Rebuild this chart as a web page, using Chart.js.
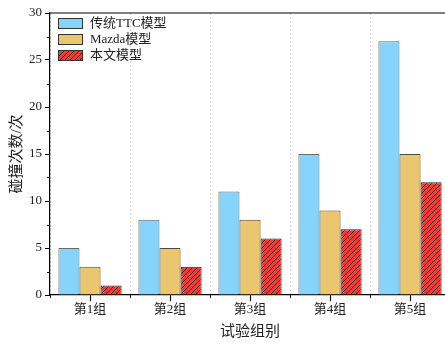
<!DOCTYPE html>
<html>
<head>
<meta charset="utf-8">
<script src="https://cdn.jsdelivr.net/npm/chart.js@4"></script>
<style>
  html, body { margin: 0; padding: 0; background: #fff; overflow: hidden; }
  #wrap { width: 445px; height: 347px; overflow: hidden; }
</style>
</head>
<body>
<div id="wrap"><canvas id="chart" width="455" height="347" style="width:455px;height:347px"></canvas></div>
<script>
const groups = ['第1组', '第2组', '第3组', '第4组', '第5组'];
const ttcValues = [5, 8, 11, 15, 27];
const mazdaValues = [3, 5, 8, 9, 15];
const oursValues = [1, 3, 6, 7, 12];
const seriesNames = ['传统TTC模型', 'Mazda模型', '本文模型'];

const serif = "'Liberation Serif', 'Times New Roman', 'Noto Sans CJK SC', serif";

function makeHatch() {
    const c = document.createElement('canvas');
    c.width = 5;
    c.height = 5;
    const g = c.getContext('2d');
    g.fillStyle = '#f63a33';
    g.fillRect(0, 0, 5, 5);
    g.strokeStyle = '#1a1a1a';
    g.lineWidth = 0.9;
    g.beginPath();
    g.moveTo(-1, 6); g.lineTo(6, -1);
    g.moveTo(-1, 1); g.lineTo(1, -1);
    g.moveTo(4, 6); g.lineTo(6, 4);
    g.stroke();
    return g.createPattern(c, 'repeat');
}

// frame top line, minor ticks, centre ticks and the legend inside the plot
const extras = {
    id: 'extras',
    afterDraw(chart) {
        const ctx = chart.ctx;
        const a = chart.chartArea;
        const y = chart.scales.y;
        const x = chart.scales.x;
        ctx.save();
        ctx.strokeStyle = '#000';
        ctx.lineWidth = 1.2;
        ctx.beginPath();
        ctx.moveTo(a.left, a.top);
        ctx.lineTo(a.right, a.top);
        for (let v = 2.5; v < 30; v += 5) {
            const py = Math.round(y.getPixelForValue(v)) + 0.5;
            ctx.moveTo(a.left, py);
            ctx.lineTo(a.left - 3, py);
        }
        for (let i = 0; i < groups.length; i++) {
            const px = Math.round(x.getPixelForValue(i)) + 0.5;
            ctx.moveTo(px, a.bottom);
            ctx.lineTo(px, a.bottom + 6);
        }
        ctx.stroke();

        // legend
        ctx.font = '13px ' + serif;
        ctx.textBaseline = 'middle';
        chart.data.datasets.forEach((ds, i) => {
            const bx = a.left + 8.5;
            const by = a.top + 5.5 + i * 16;
            ctx.fillStyle = ds.backgroundColor;
            ctx.fillRect(bx, by, 24, 10);
            ctx.lineWidth = 1;
            ctx.strokeStyle = '#333';
            ctx.strokeRect(bx, by, 24, 10);
            ctx.fillStyle = '#222';
            ctx.fillText(ds.label, bx + 31.5, by + 5.5);
        });
        ctx.restore();
    }
};

new Chart(document.getElementById('chart').getContext('2d'), {
    type: 'bar',
    data: {
        labels: groups,
        datasets: [{
            label: seriesNames[0],
            data: ttcValues,
            backgroundColor: '#86d4fb',
            borderColor: '#6a6a6a',
            borderWidth: 1
        }, {
            label: seriesNames[1],
            data: mazdaValues,
            backgroundColor: '#ecc56f',
            borderColor: '#4a4a4a',
            borderWidth: 1
        }, {
            label: seriesNames[2],
            data: oursValues,
            backgroundColor: makeHatch(),
            borderColor: '#222',
            borderWidth: 1
        }]
    },
    options: {
        responsive: false,
        animation: false,
        categoryPercentage: 0.79,
        barPercentage: 1,
        layout: { padding: { top: 13, right: 5, left: 0, bottom: 0 } },
        plugins: {
            tooltip: { enabled: false },
            legend: { display: false }
        },
        scales: {
            x: {
                afterFit: s => { s.height = 52; },
                grid: {
                    offset: true,
                    color: '#d8d8d8',
                    lineWidth: 1,
                    tickColor: '#000',
                    tickLength: 3,
                    tickBorderDash: []
                },
                border: { color: '#000', width: 1.2, dash: [2, 2] },
                ticks: {
                    color: '#222',
                    font: { family: serif, size: 13 },
                    padding: 4
                },
                title: {
                    display: true,
                    text: '试验组别',
                    color: '#222',
                    font: { family: serif, size: 15 },
                    padding: { top: 0, bottom: 6 }
                }
            },
            y: {
                min: 0,
                max: 30,
                afterFit: s => { s.width = 50; },
                grid: {
                    drawOnChartArea: false,
                    tickColor: '#000',
                    tickLength: 5
                },
                border: { color: '#000', width: 1.2 },
                ticks: {
                    stepSize: 5,
                    color: '#222',
                    font: { family: serif, size: 13 },
                    padding: 3
                },
                title: {
                    display: true,
                    text: '碰撞次数/次',
                    color: '#222',
                    font: { family: serif, size: 15 },
                    padding: { top: 8, bottom: 0 }
                }
            }
        }
    },
    plugins: [extras]
});
</script>
</body>
</html>
